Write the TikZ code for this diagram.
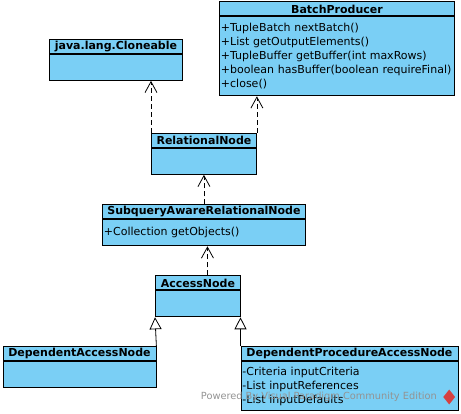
\documentclass[tikz,border=0pt]{standalone}
\usepackage{fontspec}
\setmainfont{DejaVu Sans}
\usepackage{tikz}
\usetikzlibrary{
    arrows.meta,
    positioning,
    shapes.geometric
}
\definecolor{vpblue}{RGB}{122,207,245}
\definecolor{vpred}{RGB}{214,64,64}

\begin{document}
\begin{tikzpicture}[
  x=1pt, y=-1pt,
  title/.style={
    draw, fill=vpblue, line width=0.9pt, anchor=north west,
    inner sep=0pt, minimum height=14pt,
    font=\fontsize{11}{14}\selectfont\bfseries},
  body/.style={
    draw, fill=vpblue, line width=0.9pt, anchor=north west,
    inner xsep=1.5pt, inner ysep=1pt, align=left,
    font=\fontsize{11}{14}\selectfont},
  real/.style={-{Straight Barb[length=11pt, width=12pt]}, line width=0.8pt,
    dash pattern=on 5pt off 3pt},
  gen/.style={-{Triangle[open, length=12pt, width=12pt, fill=white]},
    line width=0.8pt}
]
\useasboundingbox (0,0) rectangle (461,414);

%% Interfaces (top row)
\node[title, minimum width=133pt] (cl) at (49,39) {java.lang.Cloneable};
\node[body, minimum width=133pt, minimum height=26pt] (clb) at (cl.south west) {};

\node[title, minimum width=235pt] (bp) at (219,1.5) {BatchProducer};
\node[body, text width=232pt, minimum height=79pt] (bpb) at (bp.south west) {%
  +TupleBatch nextBatch()\\
  +List getOutputElements()\\
  +TupleBuffer getBuffer(int maxRows)\\
  +boolean hasBuffer(boolean requireFinal)\\
  +close()};

%% Class chain (top to bottom)
\node[title, minimum width=105pt] (rel) at (151,133) {RelationalNode};
\node[body, minimum width=105pt, minimum height=26pt] (relb) at (rel.south west) {};

\node[title, minimum width=203pt] (sub) at (102,204.5) {SubqueryAwareRelationalNode};
\node[body, text width=200pt, minimum height=26pt] (subb) at (sub.south west) {%
  +Collection getObjects()};

\node[title, minimum width=85pt] (acc) at (155,275.5) {AccessNode};
\node[body, minimum width=85pt, minimum height=26pt] (accb) at (acc.south west) {};

%% Subclasses
\node[title, minimum width=153pt] (dan) at (2.5,346.5) {DependentAccessNode};
\node[body, minimum width=153pt, minimum height=26pt] (danb) at (dan.south west) {};

\node[title, minimum width=217pt] (dpan) at (240.5,346.5) {DependentProcedureAccessNode};
\node[body, text width=214pt, minimum height=49pt] (dpanb) at (dpan.south west) {%
  -Criteria inputCriteria\\
  -List inputReferences\\
  -List inputDefaults};

%% Realizations
\draw[real] (rel.north west) -- (rel.north west |- clb.south);
\draw[real] (rel.north east) -- (rel.north east |- bpb.south);
\draw[real] (sub.north) -- (relb.south);
\coordinate (acctop) at ([xshift=9.5pt]acc.north);
\draw[real] (acctop) -- (acctop |- subb.south);

%% Generalizations
\draw[gen] (dan.north east) -- (accb.south west);
\draw[gen] (dpan.north west) -- (dpan.north west |- accb.south);

%% Watermark
\node[font=\fontsize{9.8}{11}\selectfont, text=gray!85, anchor=east, inner sep=0pt]
  (mark) at (437,397) {Powered By Visual Paradigm Community Edition};
\node[diamond, fill=vpred, minimum width=12pt, minimum height=15pt, inner sep=0pt,
  right=6pt of mark] (logo) {};

\end{tikzpicture}
\end{document}
